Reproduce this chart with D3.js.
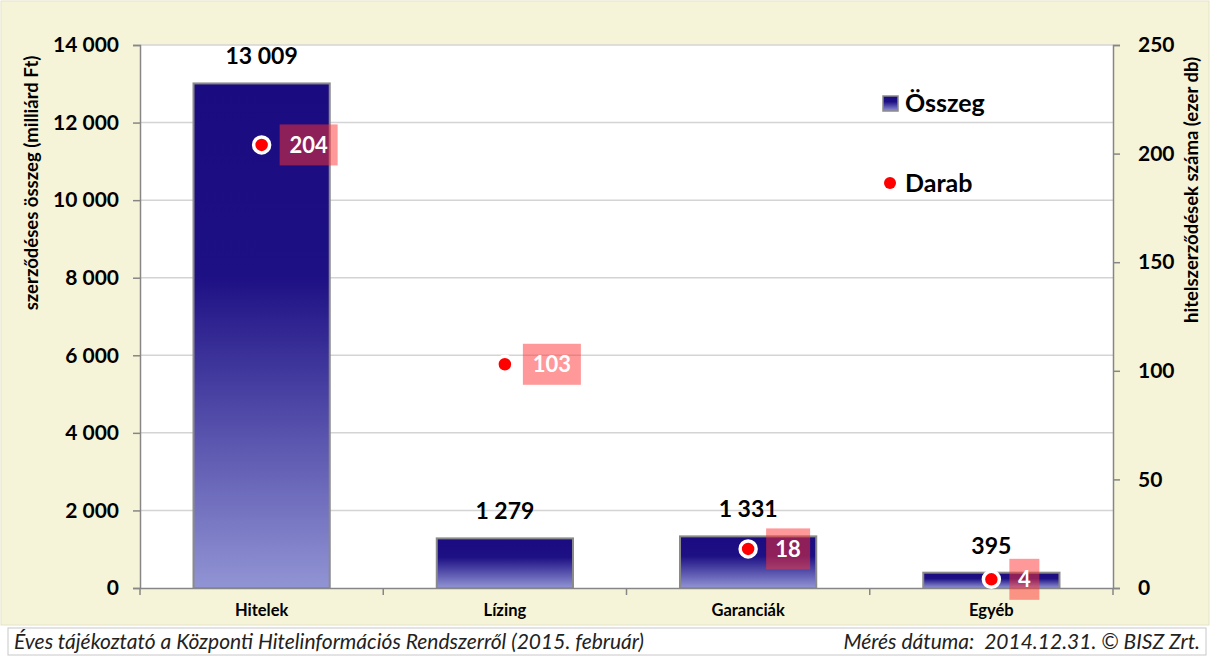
<!DOCTYPE html>
<html><head><meta charset="utf-8">
<script src="https://cdn.jsdelivr.net/npm/d3@7"></script>
<style>body{margin:0;background:#fff}svg{display:block}text{font-family:Lato,"Open Sans",sans-serif}</style>
</head><body><svg id="c" width="1210" height="657"></svg>
<script>
const categories = ["Hitelek","Lízing","Garanciák","Egyéb"];
const osszeg = [13009,1279,1331,395];
const osszegLabels = ["13 009","1 279","1 331","395"];
const darab = [204,103,18,4];
const leftTicks = [0,2000,4000,6000,8000,10000,12000,14000];
const rightTicks = [0,50,100,150,200,250];
const fmt = v => v>=1000 ? d3.format(",")(v).replace(",", " ") : String(v);

const svg = d3.select("#c");
const W=1210,H=657;
const m={l:140,r:1113,t:45,b:588};
svg.append("rect").attr("x",0).attr("y",0).attr("width",W).attr("height",H).attr("fill","#fff");
svg.append("rect").attr("x",1).attr("y",1).attr("width",W-2).attr("height",624).attr("fill","#f6f4d8").attr("stroke","#e4e2c8");
svg.append("rect").attr("x",m.l).attr("y",m.t).attr("width",m.r-m.l).attr("height",m.b-m.t).attr("fill","#fff");

const defs=svg.append("defs");
const g=defs.append("linearGradient").attr("id","barg").attr("x1",0).attr("y1",0).attr("x2",0).attr("y2",1);
g.append("stop").attr("offset","0").attr("stop-color","#1b0b80");
g.append("stop").attr("offset","0.38").attr("stop-color","#1d0f84");
g.append("stop").attr("offset","1").attr("stop-color","#9194d4");

const x=d3.scaleBand().domain(categories).range([m.l,m.r]).paddingInner(0).paddingOuter(0);
const y=d3.scaleLinear().domain([0,14000]).range([m.b,m.t]);
const y2=d3.scaleLinear().domain([0,250]).range([m.b,m.t]);

// gridlines
svg.append("g").selectAll("line").data(leftTicks.filter(d=>d>0)).join("line")
 .attr("x1",m.l).attr("x2",m.r).attr("y1",d=>y(d)).attr("y2",d=>y(d)).attr("stroke","#d4d4d4").attr("stroke-width",1.5);

// left axis
const la=svg.append("g").attr("transform",`translate(${m.l},0)`).call(d3.axisLeft(y).tickValues(leftTicks).tickFormat(fmt).tickSize(7).tickPadding(14));
la.select(".domain").attr("stroke","#868686").attr("stroke-width",1.5);
la.selectAll(".tick line").attr("stroke","#868686").attr("stroke-width",1.5);
la.selectAll(".tick text").attr("font-size",21).attr("font-weight","bold").attr("fill","#000").attr("font-family","Lato");
// right axis
const ra=svg.append("g").attr("transform",`translate(${m.r},0)`).call(d3.axisRight(y2).tickValues(rightTicks).tickSize(7).tickPadding(18));
ra.select(".domain").attr("stroke","#868686").attr("stroke-width",1.5);
ra.selectAll(".tick line").attr("stroke","#868686").attr("stroke-width",1.5);
ra.selectAll(".tick text").attr("font-size",21).attr("font-weight","bold").attr("fill","#000").attr("font-family","Lato");

// bars
const bw=x.bandwidth()*0.56;
svg.append("g").selectAll("rect").data(categories).join("rect")
 .attr("x",d=>x(d)+x.bandwidth()/2-bw/2).attr("width",bw)
 .attr("y",(d,i)=>y(osszeg[i])).attr("height",(d,i)=>m.b-y(osszeg[i]))
 .attr("fill","url(#barg)").attr("stroke","#8a8a8a").attr("stroke-width",2);

// x axis
const xa=svg.append("g").attr("transform",`translate(0,${m.b})`).call(d3.axisBottom(x).tickSize(0).tickPadding(16));
xa.select(".domain").attr("stroke","#868686").attr("stroke-width",1.5);
xa.selectAll(".tick text").attr("font-size",16.5).attr("font-weight","bold").attr("fill","#000").attr("font-family","Lato");
svg.append("g").selectAll("line").data(d3.range(categories.length+1)).join("line")
 .attr("x1",i=>m.l+i*x.bandwidth()).attr("x2",i=>m.l+i*x.bandwidth()).attr("y1",m.b).attr("y2",m.b+7)
 .attr("stroke","#868686").attr("stroke-width",1.5);

// bar labels
svg.append("g").selectAll("text").data(categories).join("text")
 .attr("x",d=>x(d)+x.bandwidth()/2).attr("y",(d,i)=>y(osszeg[i])-19)
 .attr("text-anchor","middle").attr("font-size",23).attr("font-weight","bold").attr("fill","#000")
 .text((d,i)=>osszegLabels[i]);

// darab points
const pg=svg.append("g");
categories.forEach((c,i)=>{
  const cx=x(c)+x.bandwidth()/2, cy=y2(darab[i]);
  const txt=String(darab[i]);
  const bwid=txt.length*14+16;
  pg.append("rect").attr("x",cx+18).attr("y",cy-20.5).attr("width",bwid).attr("height",41)
    .attr("fill","rgb(255,50,50)").attr("fill-opacity",0.5);
  pg.append("text").attr("x",cx+18+bwid/2).attr("y",cy+8).attr("text-anchor","middle")
    .attr("font-size",22).attr("font-weight","bold").attr("fill","#fff").text(txt);
  pg.append("circle").attr("cx",cx).attr("cy",cy).attr("r",8).attr("fill","#ff0000").attr("stroke","#fff").attr("stroke-width",3.5);
});

// legend
svg.append("rect").attr("x",883).attr("y",96).attr("width",15).attr("height",15).attr("fill","url(#barg)").attr("stroke","#8a8a8a").attr("stroke-width",1.5);
svg.append("text").attr("x",905).attr("y",112).attr("font-size",25).attr("font-weight","bold").text("Összeg");
svg.append("circle").attr("cx",890).attr("cy",183).attr("r",6).attr("fill","#ff0000");
svg.append("text").attr("x",905).attr("y",192).attr("font-size",25).attr("font-weight","bold").text("Darab");

// axis titles
svg.append("text").attr("transform","translate(38,183) rotate(-90)").attr("text-anchor","middle")
 .attr("font-size",18.5).attr("font-weight","bold").text("szerződéses összeg (milliárd Ft)");
svg.append("text").attr("transform","translate(1198,190) rotate(-90)").attr("text-anchor","middle")
 .attr("font-size",18.5).attr("font-weight","bold").text("hitelszerződések száma (ezer db)");

// footer
svg.append("rect").attr("x",8).attr("y",628).attr("width",1198).attr("height",27).attr("fill","#fff").attr("stroke","#c8c8c8");
svg.append("text").attr("x",14).attr("y",649).attr("font-size",21).attr("font-style","italic").attr("fill","#222")
 .text("Éves tájékoztató a Központi Hitelinformációs Rendszerről (2015. február)");
svg.append("text").attr("x",1200).attr("y",649).attr("text-anchor","end").attr("font-size",21).attr("font-style","italic").attr("fill","#222")
 .attr("xml:space","preserve").style("white-space","pre").text("Mérés dátuma:  2014.12.31. © BISZ Zrt.");
</script></body></html>
